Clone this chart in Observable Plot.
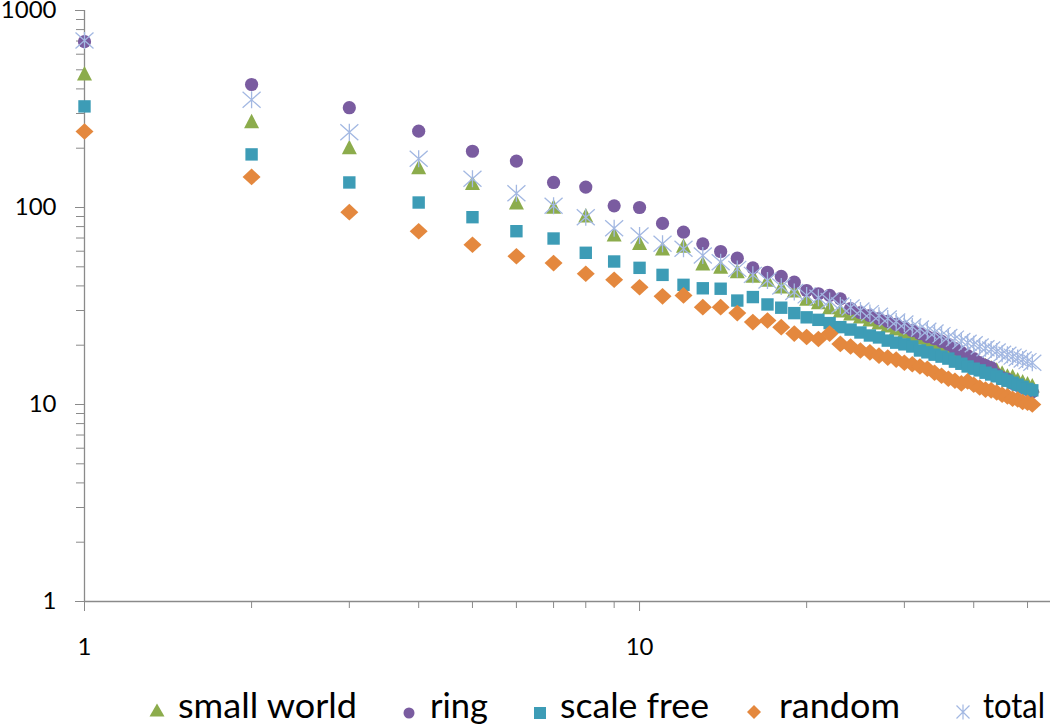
<!DOCTYPE html>
<html><head><meta charset="utf-8">
<script src="https://cdn.jsdelivr.net/npm/d3@7"></script>
<script src="https://cdn.jsdelivr.net/npm/@observablehq/plot@0.6"></script>
<style>
body{margin:0;background:#fff;font-family:Lato,sans-serif;}
</style></head><body><div id="chart"></div><div id="legend"></div>
<script>
const ranks = [1,2,3,4,5,6,7,8,9,10,11,12,13,14,15,16,17,18,19,20,21,22,23,24,25,26,27,28,29,30,31,32,33,34,35,36,37,38,39,40,41,42,43,44,45,46,47,48,49,50,51];
const smallWorld = [479,274,202,160,133,106,101,91,73,66,62,64,52,50,47.5,45,43,39.7,37.9,34.4,33,31.2,30,29,28,27,26.1,25.2,24.3,23.5,22.7,21.9,21.1,20.4,19.7,19,18.4,17.7,17.1,16.7,16.1,15.8,15.4,15,14.5,14,13.9,13.4,13.1,12.8,12.5];
const ring = [695,421,321,244,193,172,134,127,102,100,83,75,65.4,59.8,55.3,49.4,46.9,44.7,41.8,37.9,36.5,35.8,34.4,30.7,29.3,28.3,27.3,26.4,25.5,24.6,23.7,22.9,22.1,21.6,20.9,20.2,19.2,18.4,17.7,17.1,16.3,15.8,15.4,14.2,13.7,13.4,12.8,12.5,12.2,11.9,11.6];
const scaleFree = [326,186,134,106,89.3,75.8,69.6,58.9,53.2,49.4,45.5,40.5,38.9,38.7,33.7,35.1,32.2,31,29.1,27.7,26.9,25.9,24.7,24,23.2,22.4,21.9,21.1,20.6,20.2,19.7,18.8,18.4,17.9,17.5,17.1,16.5,16.1,15.6,15.2,14.9,14.5,14.2,13.9,13.5,13.2,12.9,12.6,12.3,12,11.8];
const random = [243,143,94.7,75.8,64.7,56.6,52.2,46.1,43,39.4,35.4,35.8,31.2,31.2,29.1,26.2,26.7,24.7,22.9,22,21.5,22.9,20.3,19.7,18.8,18.4,17.7,17.3,16.9,16.3,16,15.6,15.2,14.5,14,13.5,13.2,12.8,13.1,12.6,12.2,11.9,11.8,11.5,11.2,11,10.7,10.6,10.3,10.2,10];
const total = [705,352,241,177,140,118,102,89.3,78.5,72.1,65.4,61.7,57.1,52.8,48.8,45.5,42.6,39.7,37.2,35.8,34.8,33.5,31.8,31.1,30,29.1,28.2,27.3,26.4,25.8,24.9,24.3,23.7,23.2,22.5,22,21.6,21,20.6,20.2,19.7,19.3,19,18.6,18.1,17.9,17.5,17.2,16.9,16.6,16.3];

const seriesNames = ["small world","ring","scale free","random","total"];
const seriesValues = [smallWorld, ring, scaleFree, random, total];
const seriesColors = ["#8CAC4C","#7A5CA0","#3D9CB6","#E4883E","#A3B8E2"];

const yMajor = [1,10,100,1000];
const yMinor = [2,3,4,5,6,7,8,9,20,30,40,50,60,70,80,90,200,300,400,500,600,700,800,900];
const xMajor = [1,10];
const xMinor = [2,3,4,5,6,7,8,9,20,30,40,50];

// marker shapes (Excel-like)
const triangle = {draw(c){c.moveTo(0,-7.5);c.lineTo(7.5,7);c.lineTo(-7.5,7);c.closePath();}};
const circle = {draw(c){c.moveTo(6.6,0);c.arc(0,0,6.6,0,2*Math.PI);}};
const square = {draw(c){c.rect(-6.2,-6.2,12.4,12.4);}};
const diamond = {draw(c){c.moveTo(0,-8.3);c.lineTo(9,0);c.lineTo(0,8.3);c.lineTo(-9,0);c.closePath();}};
const asterisk = {draw(c){c.moveTo(-9,-8);c.lineTo(9,8);c.moveTo(9,-8);c.lineTo(-9,8);c.moveTo(0,-8.5);c.lineTo(0,8.5);}};
const symbols = [triangle, circle, square, diamond, asterisk];

const tables = seriesValues.map((vals, i) => ranks.map((r, j) => ({rank: r, value: vals[j], series: seriesNames[i]})));

const axisGray = "#8A8A8A";
const font = "Lato, sans-serif";

const chart = Plot.plot({
  width: 1050,
  height: 670,
  marginLeft: 84,
  marginRight: 0,
  marginTop: 10,
  marginBottom: 69,
  style: {fontFamily: font, background: "#fff"},
  x: {type: "log", domain: [1, 55], axis: null},
  y: {type: "log", domain: [1, 1000], axis: null},
  marks: [
    Plot.ruleY([1], {stroke: axisGray, strokeWidth: 1.3}),
    Plot.ruleX([1], {stroke: axisGray, strokeWidth: 1.3}),
    Plot.axisY({ticks: yMinor, tickSize: 8, tickFormat: () => "", stroke: axisGray, label: null}),
    Plot.axisY({ticks: yMajor, tickSize: 9, tickPadding: 19, tickFormat: d => String(d), stroke: axisGray, fill: "#000", fontSize: 24, fontFamily: font, label: null}),
    Plot.axisX({ticks: xMinor, tickSize: 7, tickFormat: () => "", stroke: axisGray, label: null}),
    Plot.axisX({ticks: xMajor, tickSize: 10, tickPadding: 26, tickFormat: d => String(d), stroke: axisGray, fill: "#000", fontSize: 24, fontFamily: font, label: null}),
    ...tables.map((t, i) => Plot.dot(t, {
      x: "rank", y: "value",
      symbol: symbols[i],
      fill: i === 4 ? "none" : seriesColors[i],
      stroke: i === 4 ? seriesColors[i] : "none",
      strokeWidth: i === 4 ? 1.3 : 0
    }))
  ]
});
document.getElementById("chart").appendChild(chart);

// legend (below the chart)
const legendX = [157, 409, 540, 754, 963];
const legendTextX = [178, 430, 560, 779, 983];
const legendTextW = [179, 58, 149, 121, 62];
const ns = "http://www.w3.org/2000/svg";
const lsvg = document.createElementNS(ns, "svg");
lsvg.setAttribute("width", 1050);
lsvg.setAttribute("height", 56);
lsvg.style.display = "block";
const legendShapes = [
  "M0,-6.5L7.5,6.5L-7.5,6.5Z",
  null, null,
  "M0,-7L7,0L0,7L-7,0Z",
  "M-6.5,-6.5L6.5,6.5M6.5,-6.5L-6.5,6.5M0,-7.5L0,7.5"
];
const legendCy = [40, 43, 43, 42, 42];
seriesNames.forEach((name, i) => {
  const cx = legendX[i], cy = legendCy[i];
  let el;
  if (i === 1) { el = document.createElementNS(ns, "circle"); el.setAttribute("cx", cx); el.setAttribute("cy", cy); el.setAttribute("r", 5.5); }
  else if (i === 2) { el = document.createElementNS(ns, "rect"); el.setAttribute("x", cx - 6); el.setAttribute("y", cy - 6); el.setAttribute("width", 12); el.setAttribute("height", 12); }
  else { el = document.createElementNS(ns, "path"); el.setAttribute("d", legendShapes[i]); el.setAttribute("transform", `translate(${cx},${cy})`); }
  if (i === 4) { el.setAttribute("fill", "none"); el.setAttribute("stroke", seriesColors[i]); el.setAttribute("stroke-width", 1.2); }
  else el.setAttribute("fill", seriesColors[i]);
  lsvg.appendChild(el);
  const tx = document.createElementNS(ns, "text");
  tx.setAttribute("x", legendTextX[i]);
  tx.setAttribute("y", 48);
  tx.setAttribute("font-family", font);
  tx.setAttribute("font-size", 34);
  tx.setAttribute("textLength", legendTextW[i]);
  tx.setAttribute("lengthAdjust", "spacingAndGlyphs");
  tx.setAttribute("fill", "#000");
  tx.textContent = name;
  lsvg.appendChild(tx);
});
document.getElementById("legend").appendChild(lsvg);
</script></body></html>
